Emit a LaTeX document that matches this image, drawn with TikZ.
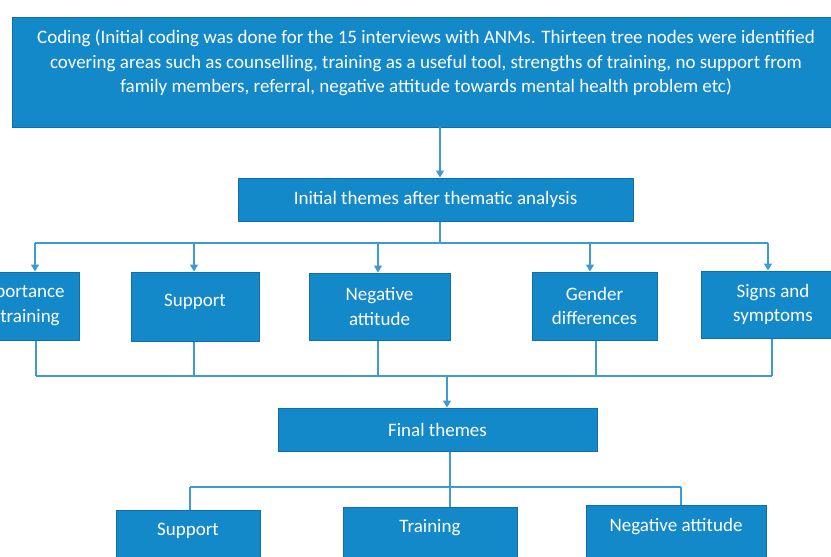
\documentclass[tikz,border=0pt]{standalone}
\usepackage{fontspec}
\setmainfont{Carlito}
\usetikzlibrary{arrows.meta}
\definecolor{boxfill}{RGB}{20,137,202}
\definecolor{boxline}{RGB}{18,110,170}
\definecolor{linkcol}{RGB}{62,154,211}
\tikzset{
  box/.style={draw=boxline, line width=1pt, fill=boxfill, text=white, align=center, inner sep=0pt,
    font=\fontsize{19}{24.5}\selectfont},
  boxtext/.style={text=white, align=center, inner sep=0pt, font=\fontsize{19}{24.5}\selectfont},
  link/.style={draw=linkcol, line width=1.2pt},
  arr/.style={link, -{Triangle[length=7pt,width=8pt]}}
}
\begin{document}
\begin{tikzpicture}[x=1pt,y=-1pt]
\useasboundingbox (0,0) rectangle (831,557);
\clip (0,0) rectangle (831,557);
\fill[white] (0,0) rectangle (831,557);
% top box
\node[box, minimum width=828, minimum height=110] (coding) at (426,72) {};
\node[boxtext] (codingtext) at (426,63) {Coding (Initial coding was done for the 15 interviews with ANMs. Thirteen tree nodes were identified\\covering areas such as counselling, training as a useful tool, strengths of training, no support from\\family members, referral, negative attitude towards mental health problem etc)};
% initial themes
\node[box, minimum width=395, minimum height=43] (init) at (435.5,199.5) {Initial themes after thematic analysis};
\draw[arr] (440,127) coordinate (c1) -- (c1 |- init.north);
% row 2
\node[box, minimum width=106, minimum height=68] (imp) at (26,306) {};
\node[boxtext] (impt) at (20,305.5) {Importance\\of training};
\node[box, minimum width=128, minimum height=69] (sup1) at (195,306.5) {\raisebox{5pt}[0.7em][0.2em]{Support}};
\node[box, minimum width=141, minimum height=67] (neg1) at (379.5,306.5) {Negative\\attitude};
\node[box, minimum width=125, minimum height=68] (gen) at (594.5,306) {Gender\\differences};
\node[box, minimum width=144, minimum height=67] (sig) at (773,304.5) {Signs and\\symptoms};
% top bus
\coordinate (t0) at (440,243);
\coordinate (t1) at (35,243);
\coordinate (t2) at (194,243);
\coordinate (t3) at (378,243);
\coordinate (t4) at (590,243);
\coordinate (t5) at (768,243);
\draw[link] (init.south -| t0) -- (t0);
\draw[link] (t1) -- (t5);
\draw[arr] (t1) -- (t1 |- imp.north);
\draw[arr] (t2) -- (t2 |- sup1.north);
\draw[arr] (t3) -- (t3 |- neg1.north);
\draw[arr] (t4) -- (t4 |- gen.north);
\draw[arr] (t5) -- (t5 |- sig.north);
% bottom bus
\coordinate (u1) at (36,376);
\coordinate (u2) at (194,376);
\coordinate (u3) at (378,376);
\coordinate (u4) at (596,376);
\coordinate (u5) at (772,376);
\coordinate (u0) at (447,376);
\draw[link] (u1 |- imp.south) -- (u1);
\draw[link] (u2 |- sup1.south) -- (u2);
\draw[link] (u3 |- neg1.south) -- (u3);
\draw[link] (u4 |- gen.south) -- (u4);
\draw[link] (u5 |- sig.south) -- (u5);
\draw[link] (u1) -- (u5);
% final themes
\node[box, minimum width=319, minimum height=43] (final) at (437.5,429.5) {Final themes};
\draw[arr] (u0) -- (u0 |- final.north);
% final bus
\coordinate (v0) at (450,487);
\coordinate (v1) at (190,487);
\coordinate (v3) at (681,487);
\draw[link] (final.south -| v0) -- (v0);
\draw[link] (v1) -- (v3);
% bottom boxes
\node[box, anchor=north, minimum width=144, minimum height=80] (sup2) at (188,510) {};
\node[box, anchor=north, minimum width=174, minimum height=80] (tr) at (430,507) {};
\node[box, anchor=north, minimum width=180, minimum height=80] (neg2) at (676,505) {};
\node[boxtext] (sup2t) at (188,531) {Support};
\node[boxtext] (trt) at (430,528) {Training};
\node[boxtext] (neg2t) at (676,527) {Negative attitude};
\draw[link] (v1) -- (v1 |- sup2.north);
\draw[link] (v0) -- (v0 |- tr.north);
\draw[link] (v3) -- (v3 |- neg2.north);
\end{tikzpicture}
\end{document}
